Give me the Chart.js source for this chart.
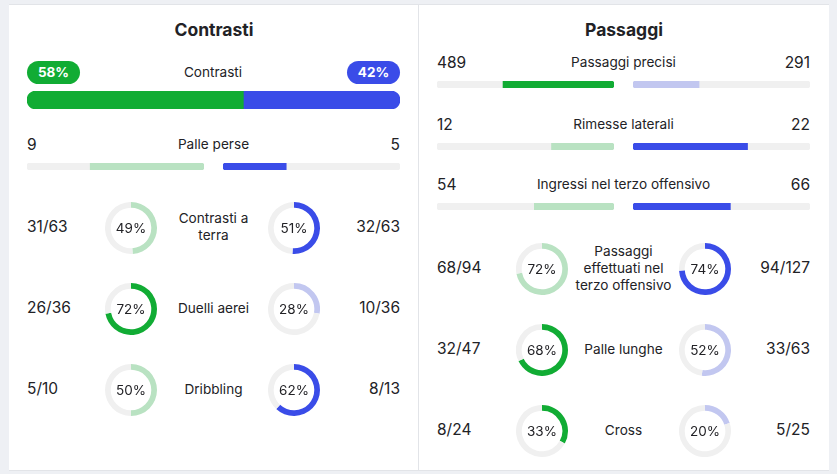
<!DOCTYPE html>
<html>
<head>
<meta charset="utf-8">
<script src="https://cdn.jsdelivr.net/npm/chart.js@4"></script>
<style>
  body { margin: 0; background: #eef0f4; font-family: Inter, "Noto Sans", sans-serif; color: #222226; }
  #wrap { position: relative; width: 837px; height: 474px; overflow: hidden; }
  .panel { position: absolute; top: 4px; height: 467px; background: #fff; border-top: 1px solid #e2e4e8; border-bottom: 1px solid #e2e4e8; box-sizing: border-box; }
  .abs { position: absolute; }
  .title { font-weight: 700; font-size: 17.5px; text-align: center; }
  .lbl { font-size: 13.6px; text-align: center; line-height: 17px; }
  .num { font-size: 15.5px; }
  .pct { font-size: 13.5px; text-align: center; width: 52px; line-height: 52px; }
  .pill { color: #fff; font-weight: 700; font-size: 13.5px; text-align: center; border-radius: 12px; width: 53px; height: 23px; line-height: 23px; }
  canvas { display: block; }
</style>
</head>
<body>
<div id="wrap">
  <div class="panel" style="left:9px;width:410px;border-right:1px solid #e2e4e8;"></div>
  <div class="panel" style="left:419px;width:410px;"></div>
</div>
<script>
// colori
const GREEN = '#11ac34', BLUE = '#3a4ce8', LGREEN = '#b9e2c2', LBLUE = '#c2c7f0', TRACK = '#f0f0f0';

// pannello sinistro: Contrasti
const duelShare = [58, 42];
const duelLabel = 'Contrasti';
const lostLabels = ['Palle perse'];
const lostHome = [9];
const lostAway = [5];
const lostLowerBetter = [true];
const leftRingLabels = ['Contrasti a terra', 'Duelli aerei', 'Dribbling'];
const leftHomeMade = [31, 26, 5];
const leftHomeTotal = [63, 36, 10];
const leftAwayMade = [32, 10, 8];
const leftAwayTotal = [63, 36, 13];

// pannello destro: Passaggi
const passLabels = ['Passaggi precisi', 'Rimesse laterali', 'Ingressi nel terzo offensivo'];
const passHome = [489, 12, 54];
const passAway = [291, 22, 66];
const passLowerBetter = [false, false, false];
const rightRingLabels = ['Passaggi effettuati nel terzo offensivo', 'Palle lunghe', 'Cross'];
const rightHomeMade = [68, 32, 8];
const rightHomeTotal = [94, 47, 24];
const rightAwayMade = [94, 33, 5];
const rightAwayTotal = [127, 63, 25];

const wrap = document.getElementById('wrap');

function el(cls, html, css) {
  const d = document.createElement('div');
  d.className = 'abs ' + cls;
  d.innerHTML = html;
  Object.assign(d.style, css);
  wrap.appendChild(d);
  return d;
}

function canvasAt(x, y, w, h) {
  const c = document.createElement('canvas');
  c.width = w; c.height = h;
  c.style.position = 'absolute';
  c.style.left = x + 'px'; c.style.top = y + 'px';
  wrap.appendChild(c);
  return c.getContext('2d');
}

const quiet = {
  responsive: false,
  animation: false,
  events: [],
  plugins: { legend: { display: false }, tooltip: { enabled: false } },
  layout: { padding: 0 }
};

// mezza barra: il riempimento parte dal centro
const halfBar = (x, y, w, frac, color, leftSide) => {
  const r = 4;
  const inner = leftSide ? { topLeft: 0, bottomLeft: 0, topRight: r, bottomRight: r }
                         : { topLeft: r, bottomLeft: r, topRight: 0, bottomRight: 0 };
  new Chart(canvasAt(x, y, w, 7), {
    type: 'bar',
    data: {
      labels: [''],
      datasets: [
        { data: [frac], backgroundColor: color, borderRadius: inner, borderSkipped: false },
        { data: [1], backgroundColor: TRACK, borderRadius: r, borderSkipped: false }
      ]
    },
    options: {
      ...quiet,
      indexAxis: 'y',
      datasets: { bar: { barPercentage: 1, categoryPercentage: 1, grouped: false } },
      scales: {
        x: { display: false, min: 0, max: 1, reverse: leftSide },
        y: { display: false }
      }
    }
  });
};

const ring = (cx, cy, pct, color) => {
  new Chart(canvasAt(cx - 26, cy - 26, 52, 52), {
    type: 'doughnut',
    data: { datasets: [{ data: [pct, 100 - pct], backgroundColor: [color, TRACK], borderWidth: 0 }] },
    options: { ...quiet, cutout: '78%' }
  });
  el('pct', pct + '%', { left: (cx - 26) + 'px', top: (cy - 26) + 'px' });
};

const barRows = (labels, home, away, lowerBetter, x0, x1, ys) => {
  const mid = (x0 + x1) / 2, half = (x1 - x0 - 18) / 2;
  labels.forEach((lab, i) => {
    const tot = home[i] + away[i];
    const homeWins = lowerBetter[i] ? home[i] < away[i] : home[i] > away[i];
    const y = ys[i];
    el('num', home[i], { left: x0 + 'px', top: (y - 10) + 'px' });
    el('num', away[i], { left: (x1 - 100) + 'px', width: '100px', textAlign: 'right', top: (y - 10) + 'px' });
    el('lbl', lab, { left: (mid - 120) + 'px', width: '240px', top: (y - 9) + 'px' });
    halfBar(x0, y + 18, half, home[i] / tot, homeWins ? GREEN : LGREEN, true);
    halfBar(x1 - half, y + 18, half, away[i] / tot, homeWins ? LBLUE : BLUE, false);
  });
};

const ringRows = (labels, hm, ht, am, at, x0, x1, cxL, cxR, ys, lblW) => {
  const mid = (x0 + x1) / 2;
  labels.forEach((lab, i) => {
    const hp = Math.round(hm[i] / ht[i] * 100), ap = Math.round(am[i] / at[i] * 100);
    const y = ys[i];
    el('num', hm[i] + '/' + ht[i], { left: x0 + 'px', top: (y - 11) + 'px' });
    el('num', am[i] + '/' + at[i], { left: (x1 - 100) + 'px', width: '100px', textAlign: 'right', top: (y - 11) + 'px' });
    const d = el('lbl', lab, { left: (mid - lblW / 2) + 'px', width: lblW + 'px' });
    d.style.top = (y - d.offsetHeight / 2 - 1) + 'px';
    ring(cxL, y, hp, hp > ap ? GREEN : LGREEN);
    ring(cxR, y, ap, ap > hp ? BLUE : LBLUE);
  });
};

// --- Contrasti ---
el('title', 'Contrasti', { left: '9px', width: '410px', top: '19px' });
el('pill', duelShare[0] + '%', { left: '27px', top: '61px', background: GREEN });
el('pill', duelShare[1] + '%', { left: '347px', top: '61px', background: BLUE });
el('lbl', duelLabel, { left: '113px', width: '200px', top: '64px' });
new Chart(canvasAt(27, 91, 373, 18), {
  type: 'bar',
  data: {
    labels: [''],
    datasets: [
      { data: [duelShare[0]], backgroundColor: GREEN, borderSkipped: false,
        borderRadius: { topLeft: 9, bottomLeft: 9, topRight: 0, bottomRight: 0 } },
      { data: [duelShare[1]], backgroundColor: BLUE, borderSkipped: false,
        borderRadius: { topLeft: 0, bottomLeft: 0, topRight: 9, bottomRight: 9 } }
    ]
  },
  options: {
    ...quiet,
    indexAxis: 'y',
    datasets: { bar: { barPercentage: 1, categoryPercentage: 1 } },
    scales: {
      x: { display: false, stacked: true, min: 0, max: duelShare[0] + duelShare[1] },
      y: { display: false, stacked: true }
    }
  }
});
barRows(lostLabels, lostHome, lostAway, lostLowerBetter, 27, 400, [145]);
ringRows(leftRingLabels, leftHomeMade, leftHomeTotal, leftAwayMade, leftAwayTotal,
  27, 400, 131, 294, [228, 309, 390], 100);

// --- Passaggi ---
el('title', 'Passaggi', { left: '419px', width: '410px', top: '19px' });
barRows(passLabels, passHome, passAway, passLowerBetter, 437, 810, [63, 125, 185]);
ringRows(rightRingLabels, rightHomeMade, rightHomeTotal, rightAwayMade, rightAwayTotal,
  437, 810, 542, 705, [269, 350, 431], 100);
</script>
</body>
</html>
